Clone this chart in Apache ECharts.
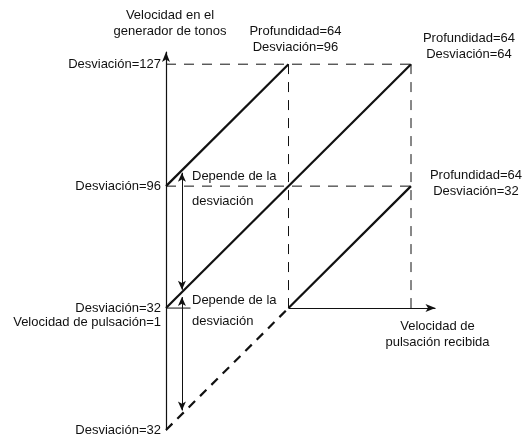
<!DOCTYPE html>
<html>
<head>
<meta charset="utf-8">
<script src="https://cdn.jsdelivr.net/npm/echarts@6/dist/echarts.min.js"></script>
<style>
  html, body { margin: 0; padding: 0; background: #fff; }
  #chart { width: 524px; height: 438px; }
</style>
</head>
<body>
<div id="chart"></div>
<script>
// schematic levels: -1 -> Desviación=32 (abajo), 0 -> 32, 1 -> 96, 2 -> 127
const yTicks = [-1, 0, 1, 2]
const yTickLabels = ['Desviación=32', 'Desviación=32', 'Desviación=96', 'Desviación=127']

// diagonal response lines (x = velocidad de pulsación, y = velocidad generada)
const responseLines = [
  [[0, 1], [1, 2]],
  [[0, 0], [2, 2]],
  [[1, 0], [2, 1]]
]
const extensionLine = [[0, -1], [1, 0]]
const shortBaseLine = [[0, 0], [0.2, 0]]

// dashed guides
const guideLines = [
  [[0, 2], [2, 2]],
  [[0, 1], [2, 1]],
  [[1, 0], [1, 2]],
  [[2, 0], [2, 2]]
]

// x axis (starts at velocidad de pulsación = 1)
const xAxisLine = [[1, 0], [2.2, 0]]

// double arrows "Depende de la desviación"
const rangeArrows = [
  [[0.13, 1.11], [0.13, 0.15]],
  [[0.13, 0.09], [0.13, -0.84]]
]

const depthPoints = [[1, 2], [2, 2], [2, 1]]
const depthLabels = ['Profundidad=64\nDesviación=96', 'Profundidad=64\nDesviación=64', 'Profundidad=64\nDesviación=32']
const depthOffsets = [[7, -25], [58, -18], [65, -3]]

const noteLabel = 'Depende de la\ndesviación'
const yAxisName = 'Velocidad en el\ngenerador de tonos'
const xAxisName = 'Velocidad de\npulsación recibida'
const originNote = 'Velocidad de pulsación=1'

const FONT = 'Liberation Sans, Arial, sans-serif'
const INK = '#111'

const chart = echarts.init(document.getElementById('chart'))

function segment(data, width, type) {
  return {
    type: 'line',
    data: data,
    symbol: 'none',
    silent: true,
    lineStyle: { color: INK, width: width, type: type }
  }
}

function textPoint(coord, text, opts) {
  return {
    value: coord,
    label: Object.assign({
      show: true,
      formatter: text,
      position: 'inside',
      color: INK,
      opacity: 1,
      textBorderWidth: 0,
      fontFamily: FONT,
      fontSize: 13,
      lineHeight: 16
    }, opts)
  }
}

const series = []
guideLines.forEach(d => series.push(segment(d, 1, [10, 8])))
responseLines.forEach(d => series.push(segment(d, 2.2, 'solid')))
series.push(segment(extensionLine, 2.2, [9, 7]))
series.push(segment(shortBaseLine, 1, 'solid'))

series.push({
  type: 'line',
  data: [],
  silent: true,
  markLine: {
    silent: true,
    symbol: ['arrow', 'arrow'],
    symbolSize: [6, 9],
    label: { show: false },
    lineStyle: { color: INK, width: 1, type: 'solid' },
    data: rangeArrows.map(a => [{ coord: a[0] }, { coord: a[1] }])
  }
})
series.push({
  type: 'line',
  data: [],
  silent: true,
  markLine: {
    silent: true,
    symbol: ['none', 'arrow'],
    symbolSize: [6, 10],
    label: { show: false },
    lineStyle: { color: INK, width: 1.2, type: 'solid' },
    data: [[{ coord: xAxisLine[0] }, { coord: xAxisLine[1] }]]
  }
})

// text annotations
const notes = depthPoints.map((p, i) => textPoint(p, depthLabels[i], {
  offset: depthOffsets[i], align: 'center', verticalAlign: 'middle'
}))
notes.push(textPoint([0, 1], noteLabel, { offset: [26, 3], align: 'left', verticalAlign: 'middle', lineHeight: 25 }))
notes.push(textPoint([0, 0], noteLabel, { offset: [26, 2.5], align: 'left', verticalAlign: 'middle', lineHeight: 21 }))
notes.push(textPoint([0, 0], originNote, { offset: [-5, 14], align: 'right', verticalAlign: 'middle' }))
notes.push(textPoint(xAxisLine[1], xAxisName, { offset: [2, 26], align: 'center', verticalAlign: 'middle' }))

series.push({
  type: 'scatter',
  symbolSize: 0,
  silent: true,
  itemStyle: { opacity: 1 },
  data: notes
})

chart.setOption({
  animation: false,
  backgroundColor: '#fff',
  grid: { left: 166, right: 88.5, top: 52, bottom: 8 },
  xAxis: {
    type: 'value',
    min: 0,
    max: 2.2,
    show: false
  },
  yAxis: {
    type: 'value',
    min: -1,
    max: 2.1,
    interval: 1,
    name: yAxisName,
    nameLocation: 'end',
    nameGap: 13,
    nameTextStyle: {
      color: INK,
      fontFamily: FONT,
      fontSize: 13,
      lineHeight: 16,
      align: 'center',
      padding: [0, 0, 0, 8]
    },
    axisLine: {
      show: true,
      symbol: ['none', 'arrow'],
      symbolSize: [6, 10],
      lineStyle: { color: INK, width: 1.2 }
    },
    axisTick: { show: false },
    splitLine: { show: false },
    axisLabel: {
      color: INK,
      fontFamily: FONT,
      fontSize: 13,
      margin: 5,
      formatter: function (v) {
        const i = yTicks.indexOf(v)
        return i >= 0 ? yTickLabels[i] : ''
      }
    }
  },
  series: series
})
</script>
</body>
</html>
